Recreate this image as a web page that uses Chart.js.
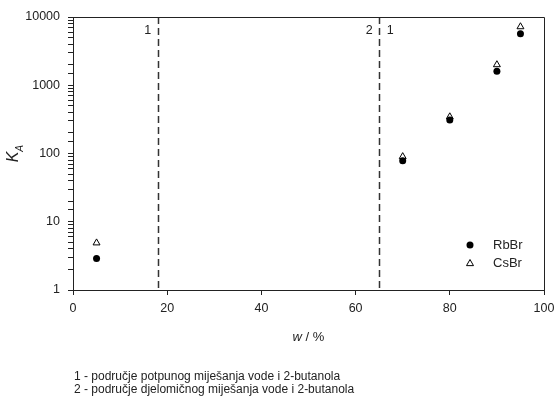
<!DOCTYPE html>
<html>
<head>
<meta charset="utf-8">
<script src="https://cdn.jsdelivr.net/npm/chart.js@4.4.1/dist/chart.umd.min.js"></script>
<style>
  html, body { margin: 0; padding: 0; background: #fff; }
  #wrap { width: 555px; height: 400px; }
</style>
</head>
<body>
<div id="wrap"><canvas id="kaChart"></canvas></div>
<script>
// data
const wValues = [5, 70, 80, 90, 95];
const rbbrValues = [2.9, 78, 310, 1600, 5700];
const csbrValues = [4.9, 90, 345, 2000, 7200];
const xTicks = [0, 20, 40, 60, 80, 100];
const yMajorTicks = [1, 10, 100, 1000, 10000];
const regionBounds = [18, 65];
const footnotes = [
    '1 - područje potpunog miješanja vode i 2-butanola',
    '2 - područje djelomičnog miješanja vode i 2-butanola'
];

const FONT = '"Liberation Sans", Arial, sans-serif';
const INK = '#222';

const toPoints = (ys) => wValues.map((w, i) => ({ x: w, y: ys[i] }));

// extra drawing: frame, dashed region lines, labels, legend, titles
const decorPlugin = {
    id: 'decor',
    afterDatasetsDraw(chart) {
        const { ctx, chartArea: a, scales: { x, y } } = chart;
        ctx.save();

        // dashed region boundaries
        ctx.strokeStyle = '#333';
        ctx.lineWidth = 1.5;
        ctx.setLineDash([7, 4]);
        regionBounds.forEach(b => {
            const px = Math.round(x.getPixelForValue(b)) + 0.5;
            ctx.beginPath();
            ctx.moveTo(px, a.top);
            ctx.lineTo(px, a.bottom);
            ctx.stroke();
        });
        ctx.setLineDash([]);

        // region numbers
        ctx.fillStyle = INK;
        ctx.font = '12.5px ' + FONT;
        ctx.textBaseline = 'middle';
        ctx.textAlign = 'center';
        const b1 = x.getPixelForValue(regionBounds[0]);
        const b2 = x.getPixelForValue(regionBounds[1]);
        ctx.fillText('1', b1 - 10, a.top + 14);
        ctx.fillText('2', b2 - 10, a.top + 14);
        ctx.fillText('1', b2 + 11, a.top + 14);

        // frame top + right
        ctx.strokeStyle = INK;
        ctx.lineWidth = 1;
        ctx.beginPath();
        ctx.moveTo(a.left, a.top + 0.5);
        ctx.lineTo(a.right + 0.5, a.top + 0.5);
        ctx.lineTo(a.right + 0.5, a.bottom);
        ctx.stroke();

        // legend
        const ds = chart.data.datasets;
        ds.forEach((d, i) => {
            const ly = a.top + 228 + i * 18;
            const lx = 470;
            ctx.beginPath();
            ctx.fillStyle = d.backgroundColor;
            ctx.strokeStyle = d.borderColor;
            ctx.lineWidth = 1;
            if (d.pointStyle === 'triangle') {
                const r = 3.5;
                ctx.moveTo(lx, ly - r);
                ctx.lineTo(lx + r, ly + r * 0.75);
                ctx.lineTo(lx - r, ly + r * 0.75);
                ctx.closePath();
                ctx.fill();
                ctx.stroke();
            } else {
                ctx.arc(lx, ly, 3.5, 0, Math.PI * 2);
                ctx.fill();
            }
            ctx.fillStyle = INK;
            ctx.font = '13px ' + FONT;
            ctx.textAlign = 'left';
            ctx.fillText(d.label, lx + 23, ly);
        });

        // y title: K with subscript A (italic), rotated
        ctx.save();
        ctx.translate(14, (a.top + a.bottom) / 2);
        ctx.rotate(-Math.PI / 2);
        ctx.textAlign = 'left';
        ctx.textBaseline = 'middle';
        ctx.font = 'italic 16px ' + FONT;
        const kw = ctx.measureText('K').width;
        ctx.fillText('K', -(kw + 7) / 2, 0);
        ctx.font = 'italic 10px ' + FONT;
        ctx.fillText('A', -(kw + 7) / 2 + kw, 6);
        ctx.restore();

        // x title: w / %
        ctx.textBaseline = 'middle';
        ctx.textAlign = 'left';
        ctx.font = 'italic 13px ' + FONT;
        const wWidth = ctx.measureText('w').width;
        ctx.font = '13px ' + FONT;
        const restWidth = ctx.measureText(' / %').width;
        const tx = (a.left + a.right) / 2 - (wWidth + restWidth) / 2;
        ctx.font = 'italic 13px ' + FONT;
        ctx.fillText('w', tx, 337);
        ctx.font = '13px ' + FONT;
        ctx.fillText(' / %', tx + wWidth, 337);

        // footnotes
        ctx.font = '12px ' + FONT;
        footnotes.forEach((t, i) => ctx.fillText(t, 74, 377 + i * 13));

        ctx.restore();
    }
};

new Chart(document.getElementById('kaChart'), {
    type: 'scatter',
    data: {
        datasets: [
            {
                label: 'RbBr',
                data: toPoints(rbbrValues),
                pointStyle: 'circle',
                pointRadius: 3.5,
                backgroundColor: '#000',
                borderColor: '#000',
                borderWidth: 0
            },
            {
                label: 'CsBr',
                data: toPoints(csbrValues),
                pointStyle: 'triangle',
                pointRadius: 4,
                backgroundColor: '#fff',
                borderColor: '#000',
                borderWidth: 1
            }
        ]
    },
    options: {
        responsive: true,
        maintainAspectRatio: false,
        animation: false,
        layout: { padding: { left: 0, top: 17, right: 0, bottom: 0 } },
        plugins: { legend: { display: false }, tooltip: { enabled: false } },
        scales: {
            x: {
                type: 'linear',
                min: 0,
                max: 100,
                afterFit: (s) => { s.height = 110; s.paddingRight = 11; s.paddingLeft = 0; },
                afterBuildTicks: (s) => { s.ticks = xTicks.map(v => ({ value: v })); },
                grid: { drawOnChartArea: false, tickLength: 5, color: INK },
                border: { color: INK, width: 1 },
                ticks: { color: INK, font: { family: FONT, size: 12.5 }, padding: 6, maxRotation: 0 }
            },
            y: {
                type: 'logarithmic',
                min: 1,
                max: 10000,
                afterFit: (s) => { s.width = 73; },
                grid: {
                    drawOnChartArea: false,
                    tickLength: 5,
                    color: INK
                },
                border: { color: INK, width: 1 },
                ticks: {
                    autoSkip: false,
                    color: INK,
                    padding: 8,
                    font: { family: FONT, size: 12.5 },
                    callback: (v) => yMajorTicks.includes(v) ? String(v) : ''
                }
            }
        }
    },
    plugins: [decorPlugin]
});
</script>
</body>
</html>
